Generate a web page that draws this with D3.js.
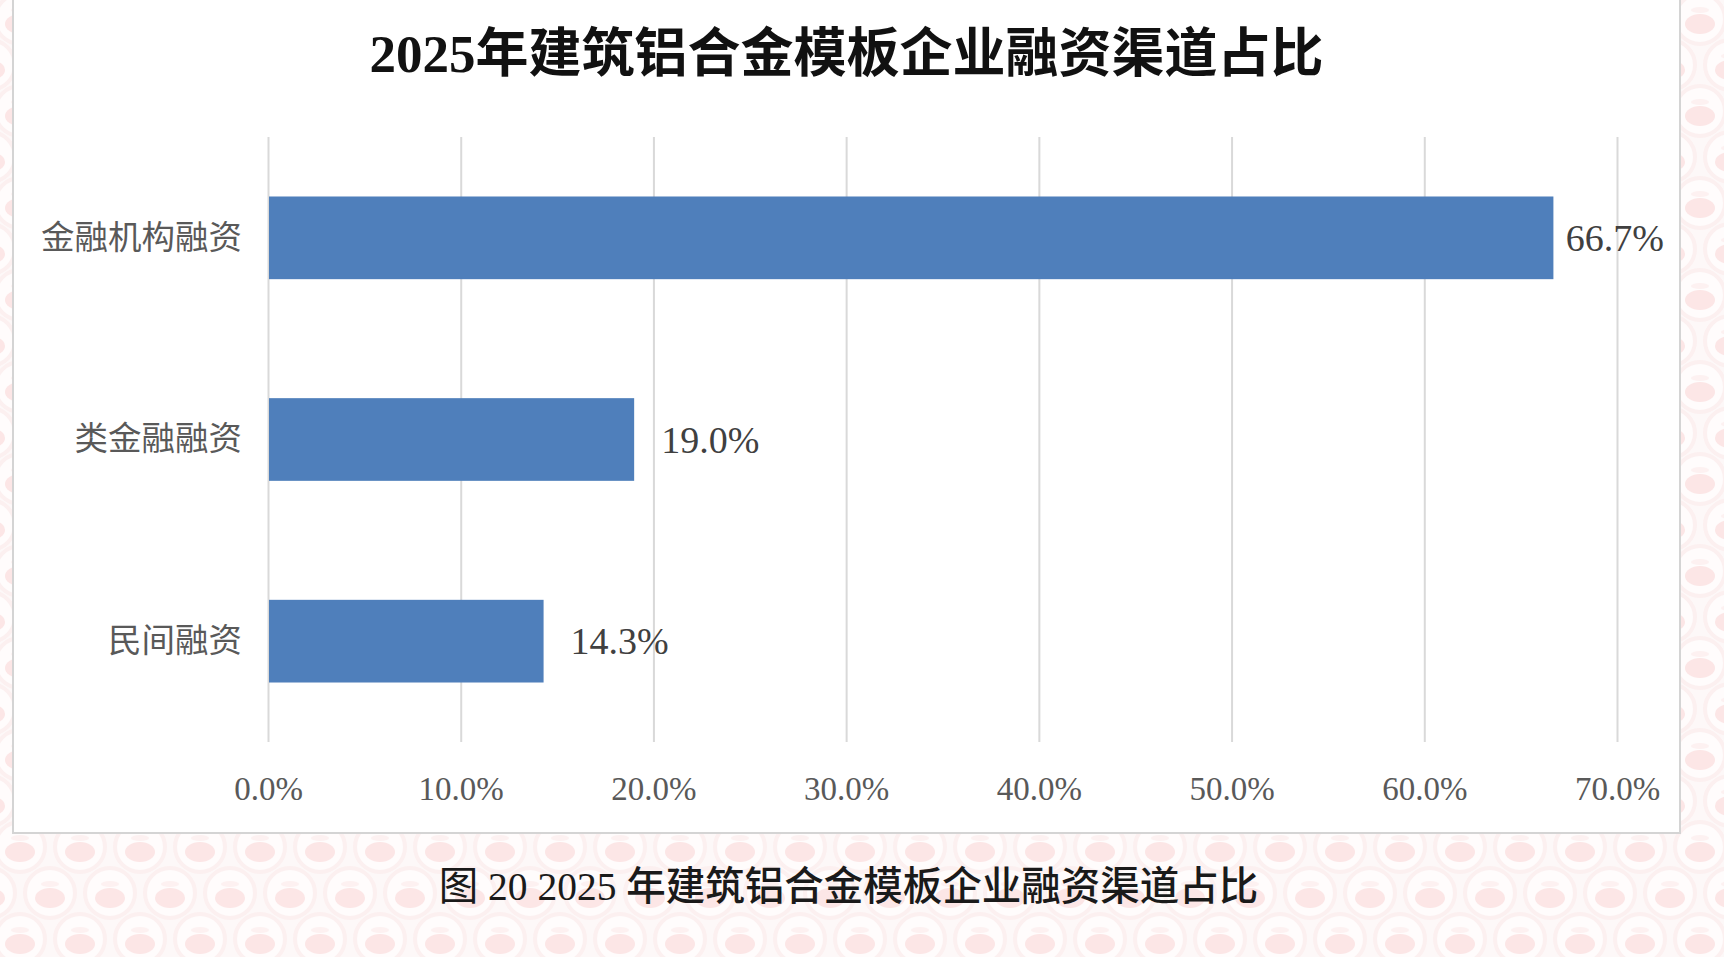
<!DOCTYPE html>
<html>
<head>
<meta charset="utf-8">
<script src="https://cdn.jsdelivr.net/npm/d3@7"></script>
<style>
  html, body { margin: 0; padding: 0; background: #fdf8f8; }
  svg { display: block; }
</style>
</head>
<body>
<div class="chart"></div>
<script>
const categories = ['金融机构融资', '类金融融资', '民间融资'];
const shares = [66.7, 19.0, 14.3];
const tickValues = [0, 10, 20, 30, 40, 50, 60, 70];
const titleText = '2025年建筑铝合金模板企业融资渠道占比';
const captionLead = '图 20 2025 ';
const captionRest = '年建筑铝合金模板企业融资渠道占比';

let W = 1724, H = 957;
let frame = { left: 13, top: -4, right: 1680, bottom: 833 };
let plot = { left: 268, right: 1617, top: 137, bottom: 742 };

let svg = d3.select('.chart').append('svg').attr('width', W).attr('height', H);

// pinkish watermark pattern behind the chart frame
let defs = svg.append('defs');
let pat = defs.append('pattern')
  .attr('id', 'bgdots')
  .attr('patternUnits', 'userSpaceOnUse')
  .attr('x', -10).attr('y', 801)
  .attr('width', 60).attr('height', 92);
[[30, 46], [0, 0], [60, 0], [0, 92], [60, 92]].forEach(function (c) {
  let g = pat.append('g').attr('transform', `translate(${c[0]},${c[1]})`);
  g.append('circle').attr('r', 25).attr('fill', '#fffcfc').attr('stroke', '#fcf0f0').attr('stroke-width', 4);
  g.append('ellipse').attr('cy', 5).attr('rx', 15).attr('ry', 10).attr('fill', '#fce6e6');
  g.append('ellipse').attr('cy', -9).attr('rx', 9).attr('ry', 3).attr('fill', '#fdf1f1');
});
svg.append('rect').attr('width', W).attr('height', H).attr('fill', 'url(#bgdots)');

svg.append('rect')
  .attr('x', frame.left).attr('y', frame.top)
  .attr('width', frame.right - frame.left).attr('height', frame.bottom - frame.top)
  .attr('fill', '#ffffff').attr('stroke', '#d4d4d4').attr('stroke-width', 2);

let xScale = d3.scaleLinear().domain([0, 70]).range([plot.left, plot.right]);
let yScale = d3.scaleBand().domain(categories).range([plot.top, plot.bottom])
  .paddingInner(0.59).paddingOuter(0.295);

// vertical gridlines
svg.append('g').attr('class', 'grid')
  .attr('transform', `translate(0,${plot.bottom})`)
  .call(d3.axisBottom(xScale).tickValues(tickValues).tickSize(-(plot.bottom - plot.top)).tickFormat(''))
  .call(g => g.select('.domain').remove())
  .call(g => g.selectAll('line').attr('stroke', '#d9d9d9').attr('stroke-width', 2));

// x tick labels
svg.append('g').attr('class', 'x-axis')
  .attr('transform', `translate(0,${plot.bottom})`)
  .call(d3.axisBottom(xScale).tickValues(tickValues).tickSize(0).tickPadding(0).tickFormat(d => d.toFixed(1) + '%'))
  .call(g => g.select('.domain').remove())
  .call(g => g.selectAll('text')
    .attr('y', 46).attr('dy', '0.35em')
    .attr('fill', '#595959')
    .style('font-family', '"Liberation Serif", "Times New Roman", serif')
    .style('font-size', '33px'));

// category labels
svg.append('g').attr('class', 'y-axis')
  .attr('transform', `translate(${plot.left},0)`)
  .call(d3.axisLeft(yScale).tickSize(0).tickPadding(26))
  .call(g => g.select('.domain').remove())
  .call(g => g.selectAll('text')
    .attr('fill', '#595959')
    .style('font-family', '"Noto Sans CJK SC", sans-serif')
    .style('font-size', '33.5px'));

// bars
svg.selectAll('.bar')
  .data(shares)
  .enter()
  .append('rect')
  .attr('class', 'bar')
  .attr('x', xScale(0) + 1)
  .attr('y', (d, i) => yScale(categories[i]))
  .attr('width', d => xScale(d) - xScale(0) - 1)
  .attr('height', yScale.bandwidth())
  .attr('fill', '#4f7fbb');

// value labels
let labels = svg.selectAll('.val')
  .data(shares)
  .enter()
  .append('text')
  .attr('class', 'val')
  .attr('y', (d, i) => yScale(categories[i]) + yScale.bandwidth() / 2)
  .attr('dy', '0.35em')
  .attr('fill', '#404040')
  .style('font-family', '"Liberation Serif", "Times New Roman", serif')
  .style('font-size', '38px')
  .text(d => d.toFixed(1) + '%');
labels.attr('x', function (d) {
  let w = this.getComputedTextLength();
  return Math.min(xScale(d) + 27, 1664 - w);
});

// title
svg.append('text')
  .attr('x', (frame.left + frame.right) / 2).attr('y', 53)
  .attr('dy', '0.35em').attr('text-anchor', 'middle')
  .attr('fill', '#111')
  .style('font-family', '"Liberation Serif", "Noto Sans CJK SC", serif')
  .style('font-weight', 'bold')
  .style('font-size', '53px')
  .text(titleText);

// caption below the frame
let cap = svg.append('text')
  .attr('x', (frame.left + frame.right) / 2 + 2).attr('y', 886)
  .attr('dy', '0.35em').attr('text-anchor', 'middle')
  .attr('fill', '#1a1a1a')
  .style('font-family', '"Liberation Serif", "Noto Sans CJK SC", serif')
  .style('font-size', '39.5px');
cap.append('tspan').text(captionLead);
cap.append('tspan').style('font-weight', 500).text(captionRest);
</script>
</body>
</html>
